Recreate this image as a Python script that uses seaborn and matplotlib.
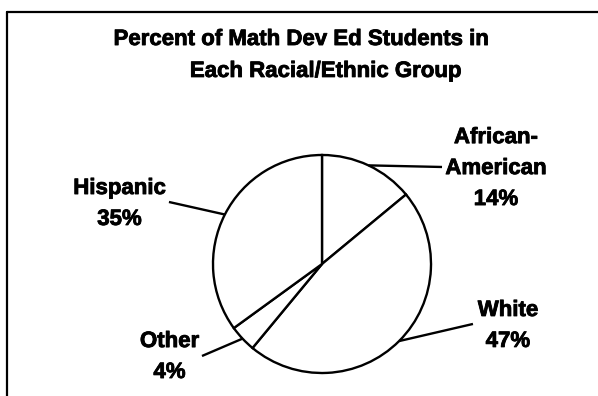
import numpy as np
import matplotlib
matplotlib.use("Agg")
import matplotlib.pyplot as plt
import matplotlib.patheffects as pe
from matplotlib.lines import Line2D
import seaborn as sns

# Share of math developmental-education students by group
groups = ["African-\nAmerican", "White", "Other", "Hispanic"]
shares = [14, 47, 4, 35]
title_lines = ["Percent of Math Dev Ed Students in", "Each Racial/Ethnic Group"]

# Label anchors (centre x, baseline of the percent line) and leader ends, pie radius = 1
label_pos = [(1.596, 0.541), (1.706, -0.761), (-1.399, -1.046), (-1.858, 0.358)]
leader_end = [(1.101, 0.890), (1.385, -0.550), (-1.101, -0.844), (-1.404, 0.569)]
line_step = 0.284
title_pos = [(-0.193, 2.009), (0.032, 1.716)]

sns.set_theme(style="white")
plt.rcParams["font.family"] = ["Liberation Sans", "DejaVu Sans"]

fig = plt.figure(figsize=(5.98, 3.96), dpi=100)
ax = fig.add_axes([0, 0, 1, 1])

wedges, _ = ax.pie(
    shares,
    startangle=90,
    counterclock=False,
    radius=1.0,
    colors=["white"] * len(shares),
    wedgeprops=dict(edgecolor="black", linewidth=1.7),
)

heavy = [pe.withStroke(linewidth=0.6, foreground="black")]
txt = dict(ha="center", va="baseline", fontsize=16, fontweight="bold",
           color="black", path_effects=heavy)

for w, name, val, (tx, ty), (ex, ey) in zip(wedges, groups, shares, label_pos, leader_end):
    mid = np.deg2rad((w.theta1 + w.theta2) / 2)
    sx, sy = np.cos(mid), np.sin(mid)
    ax.plot([sx, ex], [sy, ey], color="black", lw=1.7, solid_capstyle="butt")
    lines = name.split("\n") + [f"{val}%"]
    for k, line in enumerate(reversed(lines)):
        ax.text(tx, ty + k * line_step, line, **txt)

for (tx, ty), line in zip(title_pos, title_lines):
    ax.text(tx, ty, line, **txt)

ax.set_aspect("auto")
ax.set_xlim(-2.954, 2.532)
ax.set_ylim(-1.211, 2.422)
ax.axis("off")

# Chart frame: left and top edges
fig.add_artist(Line2D([7 / 598, 7 / 598], [0, 1 - 12 / 396], transform=fig.transFigure,
                      color="black", lw=1.6))
fig.add_artist(Line2D([7 / 598, 1], [1 - 12 / 396, 1 - 12 / 396], transform=fig.transFigure,
                      color="black", lw=1.6))

fig.savefig("out.png", dpi=100, facecolor="white")
